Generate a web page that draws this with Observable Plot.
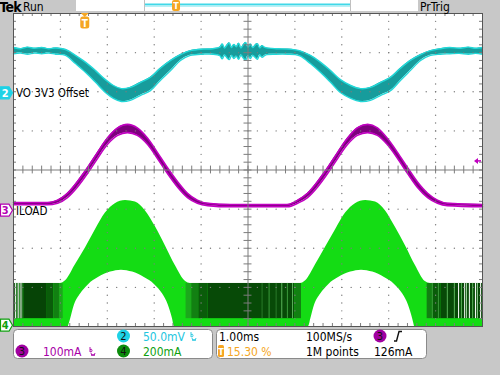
<!DOCTYPE html>
<html><head><meta charset="utf-8">
<script src="https://cdn.jsdelivr.net/npm/d3@7"></script>
<script src="https://cdn.jsdelivr.net/npm/@observablehq/plot@0.6"></script>
<style>
html,body{margin:0;padding:0;background:#c8c8c8;}
#wrap{position:relative;width:500px;height:375px;overflow:hidden;}
#wrap svg{display:block;}
</style></head><body><div id="wrap"></div>
<script>
// ---- time axis: ms (1 ms/div, 10 div); vertical: screen divisions (-4..4)
// Channel 2 (VO 3V3 Offset, 50.0mV/div) — band edges
const cyanT  = [0,0.15,0.30,0.45,0.60,0.75,0.90,1.11,1.32,1.54,1.75,1.96,2.13,2.30,2.49,2.71,2.92,3.13,3.35,3.56,3.77,4.05,4.25,4.40,4.45,4.50,4.55,4.60,4.65,4.70,4.75,4.80,4.85,4.90,4.95,5.00,5.05,5.10,5.15,5.20,5.25,5.30,5.35,5.40,5.60,5.85,6.01,6.12,6.33,6.55,6.76,6.97,7.19,7.40,7.61,7.83,8.04,8.25,8.46,8.68,8.89,9.1,9.3,9.5,9.7,9.85,10];
const cyanHi = [3.13,3.10,3.14,3.11,3.13,3.10,3.12,3.08,2.93,2.75,2.54,2.31,2.16,2.08,2.11,2.24,2.37,2.60,2.80,2.95,3.05,3.09,3.10,3.14,3.22,3.12,3.19,3.25,3.13,3.21,3.15,3.24,3.12,3.20,3.26,3.14,3.22,3.13,3.19,3.23,3.12,3.18,3.14,3.12,3.10,3.09,3.07,3.04,2.93,2.75,2.54,2.31,2.16,2.08,2.11,2.24,2.37,2.60,2.80,2.95,3.05,3.10,3.13,3.11,3.14,3.11,3.13];
const cyanLo = [2.97,2.99,2.96,2.99,2.97,2.99,2.96,2.93,2.72,2.49,2.24,1.98,1.83,1.75,1.78,1.91,2.03,2.29,2.54,2.80,2.93,2.96,2.96,2.92,2.84,2.94,2.87,2.82,2.93,2.85,2.91,2.83,2.94,2.86,2.81,2.92,2.85,2.93,2.88,2.83,2.94,2.88,2.92,2.95,2.96,2.96,2.95,2.91,2.72,2.49,2.24,1.98,1.83,1.75,1.78,1.91,2.03,2.29,2.54,2.80,2.93,2.96,2.97,2.98,2.96,2.98,2.96];

// Channel 3 (ILOAD, 100mA/div) — trace centre and trace thickness
const purpleT      = [0,0.36,0.72,0.94,1.15,1.36,1.58,1.79,2.00,2.22,2.43,2.64,2.86,3.07,3.28,3.50,3.71,3.92,4.14,4.63,5.27,5.84,6.06,6.27,6.48,6.70,6.91,7.12,7.33,7.55,7.76,7.97,8.19,8.40,8.61,8.83,9.04,9.25,10];
const purpleMid    = [-0.86,-0.86,-0.86,-0.81,-0.65,-0.37,-0.01,0.37,0.73,0.98,1.06,0.98,0.73,0.37,-0.01,-0.37,-0.65,-0.81,-0.88,-0.91,-0.91,-0.91,-0.81,-0.65,-0.37,-0.01,0.37,0.73,0.98,1.06,0.98,0.73,0.37,-0.01,-0.37,-0.65,-0.81,-0.88,-0.91];
const purpleSpread = [0.06,0.06,0.06,0.08,0.11,0.14,0.15,0.15,0.16,0.19,0.21,0.19,0.16,0.15,0.15,0.14,0.11,0.08,0.06,0.06,0.06,0.06,0.08,0.11,0.14,0.15,0.15,0.16,0.19,0.21,0.19,0.16,0.15,0.15,0.14,0.11,0.08,0.06,0.06];

// Channel 4 (200mA/div) — switching envelope
const greenT   = [0,1.00,1.11,1.32,1.54,1.75,1.96,2.17,2.39,2.60,2.81,3.03,3.24,3.45,3.67,3.77,6.12,6.23,6.44,6.65,6.87,7.08,7.29,7.51,7.72,7.93,8.14,8.36,8.57,8.78,8.89,10];
const greenTop = [-2.90,-2.90,-2.83,-2.42,-1.98,-1.52,-1.10,-0.86,-0.78,-0.82,-1.04,-1.46,-1.94,-2.44,-2.85,-2.90,-2.90,-2.83,-2.42,-1.98,-1.52,-1.10,-0.86,-0.78,-0.82,-1.04,-1.46,-1.94,-2.44,-2.85,-2.90,-2.90];
const greenBase = -3.80;           // lower edge of the dense switching block
const archT   = [1.17,1.22,1.30,1.43,1.60,1.81,2.07,2.30,2.54,2.79,3.01,3.18,3.30,3.39,3.43,6.29,6.34,6.42,6.55,6.72,6.93,7.19,7.42,7.66,7.91,8.13,8.30,8.42,8.51,8.55];
const archTop = [-4,-3.80,-3.45,-3.17,-2.93,-2.75,-2.61,-2.56,-2.61,-2.75,-2.93,-3.17,-3.45,-3.80,-4,-4,-3.80,-3.45,-3.17,-2.93,-2.75,-2.61,-2.56,-2.61,-2.75,-2.93,-3.17,-3.45,-3.80,-4];
const darkStart = [0.00,0.22,0.72,0.86,0.98,3.68,3.80,3.95,4.15,6.00,8.82,8.95,9.12];
const darkEnd   = [0.22,0.72,0.86,0.98,1.06,3.80,3.95,4.15,6.00,6.14,8.95,9.12,10.0];
const darkFill  = ["#0c520c","#064406","#0a5c0a","#128012","#1ca81c","#1ca81c","#128012","#0a5c0a","#074a07","#128012","#128012","#0a5c0a","#074a07"];
const stripeT     = [0.04,0.07,0.10,0.13,0.16,0.19,5.30,5.45,5.60,5.72,5.84,5.95,8.93,9.06,9.25,9.40,9.49,9.55,9.62,9.66,9.72,9.79,9.85,9.89,9.96];
const stripeColor = ["#ffffff","#3c9a3c","#ffffff","#3c9a3c","#ffffff","#2a7a2a","#2a7a2a","#3c9a3c","#2a7a2a","#5ab45a","#3c9a3c","#5ab45a","#3c9a3c","#3c9a3c","#5ab45a","#5ab45a","#ffffff","#5ab45a","#ffffff","#a0d8a0","#ffffff","#5ab45a","#ffffff","#a0d8a0","#ffffff"];

// Markers / settings
const ch2Pos = 1.96, ch3Pos = -1.04, ch4Pos = -3.98;
const ch3Scale = 100, trigLevel = 126;   // mA
const trigPct = 15.30;
const ch2Label = "VO 3V3 Offset", ch3Label = "ILOAD";
const row1 = {ch2: "50.0mV", time: "1.00ms", rate: "100MS/s", lvl: "126mA"};
const row2 = {ch3: "100mA", ch4: "200mA", pos: "15.30 %", pts: "1M points"};

// ---- tables
const cyan = cyanT.map((t,i)=>({t, hi: cyanHi[i], lo: cyanLo[i]}));
const purple = purpleT.map((t,i)=>({t, hi: purpleMid[i]+purpleSpread[i]/2, lo: purpleMid[i]-purpleSpread[i]/2}));
const green = greenT.map((t,i)=>({t, top: greenTop[i]}));
const arch = archT.map((t,i)=>({t, top: archTop[i]}));
const dark = darkStart.map((a,i)=>({a, b: darkEnd[i], c: darkFill[i]}));
const stripes = stripeT.map((t,i)=>({t, c: stripeColor[i]}));

// graticule
const majX = d3.range(0, 11), majY = d3.range(-4, 5);
const minX = d3.range(0, 50.5).map(i=>i*0.2), minY = d3.range(0, 40.5).map(i=>-4+i*0.2);
const dots = [];
majX.filter(v=>v>0&&v<10&&v!==5).forEach(X=>minY.forEach(v=>{ if(v>-3.95&&v<3.95) dots.push({t:X,v}); }));
majY.filter(v=>v>-4&&v<4&&v!==0).forEach(V=>minX.forEach(t=>{ if(t>0.05&&t<9.95) dots.push({t,v:V}); }));
const tx = 3/46.9, ty = 3/39.1;

const GR = "#7c7c7c";
const plot = Plot.plot({
  width: 500, height: 375,
  marginLeft: 13, marginRight: 18, marginTop: 13, marginBottom: 49,
  x: {domain: [0,10], axis: null},
  y: {domain: [-4,4], axis: null},
  color: {type: "identity"},
  style: {background: "transparent"},
  marks: [
    Plot.frame({fill: "white"}),
    Plot.areaY(green, {x:"t", y1: d=>-4, y2:"top", fill:"#14dc14", curve:"monotone-x"}),
    Plot.rect(dark, {x1:"a", x2:"b", y1: d=>greenBase, y2: d=>-2.90, fill:"c"}),
    Plot.ruleX(stripes, {x:"t", y1: d=>greenBase, y2: d=>-2.90, stroke:"c", strokeWidth:1}),
    Plot.areaY(arch, {x:"t", y1: d=>-4, y2:"top", fill:"white", curve:"monotone-x"}),
    Plot.areaY(purple, {x:"t", y1:"lo", y2:"hi", fill:"#7d007d", curve:"monotone-x"}),
    Plot.lineY(purple, {x:"t", y:"hi", stroke:"#c000c0", strokeWidth:1.6, curve:"monotone-x"}),
    Plot.lineY(purple, {x:"t", y:"lo", stroke:"#c000c0", strokeWidth:1.6, curve:"monotone-x"}),
    Plot.areaY(cyan, {x:"t", y1:"lo", y2:"hi", fill:"#179c9c", curve:"catmull-rom"}),
    Plot.lineY(cyan, {x:"t", y:"hi", stroke:"#22d8d8", strokeWidth:1.4, curve:"catmull-rom"}),
    Plot.lineY(cyan, {x:"t", y:"lo", stroke:"#22d8d8", strokeWidth:1.4, curve:"catmull-rom"}),
    Plot.dot(dots, {x:"t", y:"v", r:0.7, fill:GR, stroke:null}),
    Plot.ruleX([5], {stroke:GR, strokeWidth:1}),
    Plot.ruleY([0], {stroke:GR, strokeWidth:1}),
    Plot.ruleX(minX, {x: d=>d, y1: d=>-0.1, y2: d=>0.1, stroke:GR}),
    Plot.ruleY(minY, {y: d=>d, x1: d=>5-0.085, x2: d=>5+0.085, stroke:GR}),
    Plot.ruleX(minX, {x: d=>d, y1: d=>4, y2: d=>4-ty, stroke:GR}),
    Plot.ruleX(minX, {x: d=>d, y1: d=>-4, y2: d=>-4+ty, stroke:GR}),
    Plot.ruleY(minY, {y: d=>d, x1: d=>0, x2: d=>tx, stroke:GR}),
    Plot.ruleY(minY, {y: d=>d, x1: d=>10, x2: d=>10-tx, stroke:GR}),
    Plot.frame({stroke:"#555"})
  ]
});
const wrap = document.getElementById("wrap");
wrap.appendChild(plot);
const X = plot.scale("x"), Y = plot.scale("y");

// ---- instrument chrome overlay
const FONT = '"DejaVu Sans Condensed","DejaVu Sans",sans-serif';
const o = d3.select(wrap).append("svg").attr("width",500).attr("height",375)
  .style("position","absolute").style("left","0px").style("top","0px")
  .attr("font-family", FONT).attr("font-size", 12);
const ORANGE = "#f5a623", MAG = "#a800a8", CY = "#1ed2e6", GRN = "#0fa00f";

// top status bar
o.append("text").attr("x",-0.5).attr("y",11.5).attr("font-weight","bold").attr("font-size",14).attr("letter-spacing",-0.8).text("Tek");
o.append("text").attr("x",23).attr("y",11).text("Run");
o.append("rect").attr("x",76).attr("y",0).attr("width",342).attr("height",11).attr("fill","white");
[144.5, 350.5].forEach(x=>o.append("line").attr("x1",x).attr("x2",x).attr("y1",0).attr("y2",11).attr("stroke","#c0c0c0"));
o.append("rect").attr("x",145).attr("y",3.5).attr("width",205).attr("height",2).attr("fill","#40d8e8");
o.append("rect").attr("x",145).attr("y",5.5).attr("width",205).attr("height",1.5).attr("fill","#b8f0f6");
const rx = 144.5 + trigPct/100*206;
o.append("rect").attr("x",rx-4).attr("y",0).attr("width",8).attr("height",11).attr("rx",2).attr("fill",ORANGE);
o.append("text").attr("x",rx).attr("y",9).attr("text-anchor","middle").attr("fill","white").attr("font-weight","bold").attr("font-size",9).text("T");
o.append("text").attr("x",420).attr("y",11).text("PrTrig");

// trigger position marker
const tpx = X.apply(trigPct/10);
o.append("polygon").attr("points",`${tpx-4},13 ${tpx+4},13 ${tpx},17`).attr("fill",ORANGE);
o.append("rect").attr("x",tpx-4.5).attr("y",16.5).attr("width",9).attr("height",12).attr("rx",2.5).attr("fill",ORANGE);
o.append("text").attr("x",tpx).attr("y",26.5).attr("text-anchor","middle").attr("fill","white").attr("font-weight","bold").attr("font-size",10).text("T");

// channel markers + labels
function marker(v, fill, stroke, tcol, label){
  const y = Y.apply(v);
  o.append("polygon").attr("points",`0.5,${y-6} 9,${y-6} 12.5,${y} 9,${y+6} 0.5,${y+6}`).attr("fill",fill).attr("stroke",stroke).attr("stroke-width",1.2);
  o.append("text").attr("x",5.3).attr("y",y+4).attr("text-anchor","middle").attr("fill",tcol).attr("font-weight","bold").attr("font-size",11).text(label);
  return y;
}
const y2 = marker(ch2Pos, CY, CY, "white", "2");
const y3 = marker(ch3Pos, "white", "#b400b4", "#b400b4", "3");
marker(ch4Pos, "white", GRN, GRN, "4");
o.append("text").attr("x",16).attr("y",y2+4.5).attr("font-size",11.5).text(ch2Label);
o.append("text").attr("x",16).attr("y",y3+4.5).attr("font-size",11.5).text(ch3Label);

// trigger level arrow
const yt = Y.apply(ch3Pos + trigLevel/ch3Scale);
o.append("line").attr("x1",476).attr("x2",481).attr("y1",yt).attr("y2",yt).attr("stroke","#c000c0").attr("stroke-width",1.5);
o.append("polygon").attr("points",`474,${yt} 478,${yt-3} 478,${yt+3}`).attr("fill","#c000c0");

// bottom readout boxes
o.append("rect").attr("x",13.5).attr("y",329.5).attr("width",199).attr("height",29).attr("rx",4).attr("fill","white").attr("stroke","#8a8a8a");
o.append("rect").attr("x",216.5).attr("y",329.5).attr("width",210).attr("height",29).attr("rx",4).attr("fill","white").attr("stroke","#8a8a8a");
function badge(cx, cy, fill, label){
  o.append("circle").attr("cx",cx).attr("cy",cy).attr("r",6.5).attr("fill",fill);
  o.append("text").attr("x",cx).attr("y",cy+4).attr("text-anchor","middle").attr("fill","#111").attr("font-size",11).text(label);
}
function bw(x, y, col){
  o.append("path").attr("d",`M${x},${y-4} v5 M${x},${y-1.5} q2,-1 2,1 q0,2 -2,1.3 M${x+1},${y+2} l1,3 l1,-2 l1,2 l1,-3`).attr("fill","none").attr("stroke",col).attr("stroke-width",0.9);
}
badge(123.5, 336, CY, "2");
o.append("text").attr("x",143).attr("y",340.5).attr("fill","#22c6e0").text(row1.ch2);
bw(191, 336, "#22c6e0");
badge(22, 351, "#a000a0", "3");
o.append("text").attr("x",43).attr("y",355.5).attr("fill",MAG).text(row2.ch3);
bw(90, 351, MAG);
badge(123.5, 351, "#0c8c0c", "4");
o.append("text").attr("x",143).attr("y",355.5).attr("fill",GRN).text(row2.ch4);

o.append("text").attr("x",219).attr("y",340.5).text(row1.time);
o.append("text").attr("x",306).attr("y",340.5).text(row1.rate);
badge(380, 336, "#a000a0", "3");
o.append("path").attr("d","M394,341 L396.5,341 L399,331.5 L402,331.5").attr("fill","none").attr("stroke","#111").attr("stroke-width",1.4);
o.append("rect").attr("x",218).attr("y",345).attr("width",6).attr("height",12).attr("rx",1.5).attr("fill",ORANGE);
o.append("text").attr("x",221).attr("y",354.5).attr("text-anchor","middle").attr("fill","white").attr("font-weight","bold").attr("font-size",9).text("T");
o.append("text").attr("x",227).attr("y",355.5).attr("fill",ORANGE).text(row2.pos);
o.append("text").attr("x",306).attr("y",355.5).text(row2.pts);
o.append("text").attr("x",374).attr("y",355.5).text(row1.lvl);
</script></body></html>
